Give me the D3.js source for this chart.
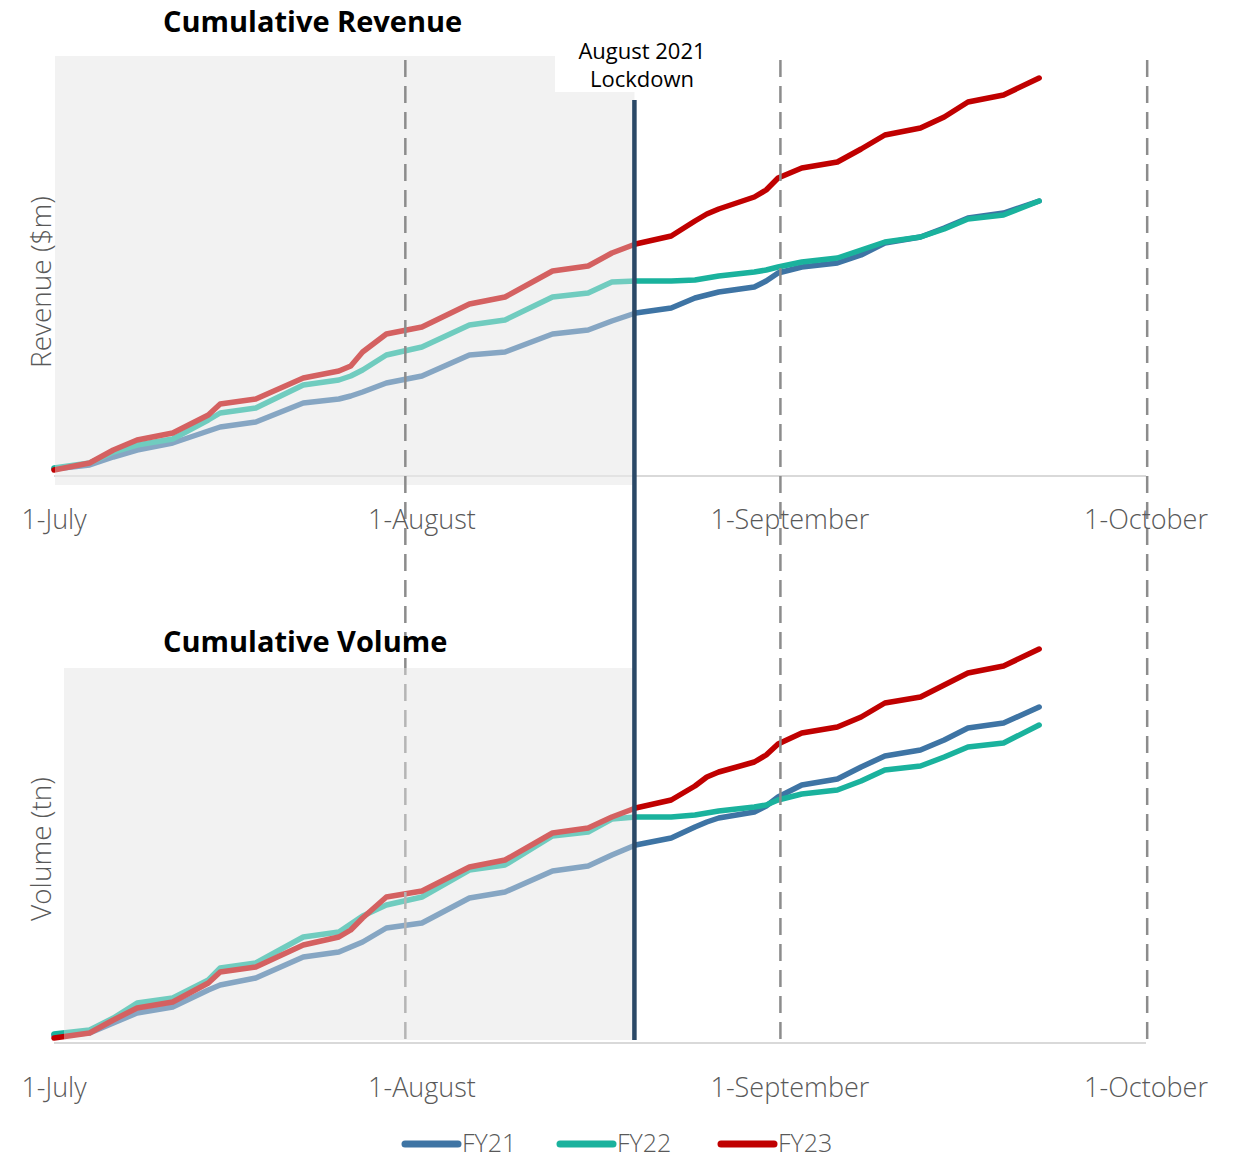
<!DOCTYPE html>
<html><head><meta charset="utf-8">
<script src="https://cdn.jsdelivr.net/npm/d3@7"></script>
<style>
body{margin:0;background:#fff;}
text{font-family:"Open Sans","Noto Sans",sans-serif;}
</style></head>
<body><svg id="c" width="1243" height="1158"></svg>
<script>
// ---- data (days since 1 July; cumulative values, arbitrary units) ----
const days = [0,3,5,7,10,13,14,17,21,24,25,26,28,31,35,38,42,45,47,49,52,54,55,56,59,60,61,63,66,68,70,73,75,77,80,83];
const seriesNames = ["FY21","FY22","FY23"];
const revFY21 = [1.75,2.75,4.75,6.5,8.25,11.25,12.25,13.5,18.25,19.25,20,21,23.25,25,30.25,31,35.5,36.5,38.75,40.75,42,44.5,45.25,46,47.25,48.75,50.75,52.25,53.25,55.25,58.25,59.75,62,64.5,65.75,68.75];
const revFY22 = [2,3.25,6,7.75,9.25,14,15.75,17,22.75,24,25,26.5,30.25,32.25,37.75,39,44.75,45.75,48.5,48.75,48.75,49,49.5,50,51,51.5,52.25,53.5,54.5,56.5,58.5,59.75,61.75,64.25,65.25,68.75];
const revFY23 = [1.5,3.25,6.5,9,10.75,15.25,18,19.25,24.5,26.25,27.5,31,35.5,37.25,43,44.75,51.25,52.5,55.75,58,60,63.75,65.5,66.75,69.75,71.5,74.5,77,78.5,81.75,85.25,87,89.75,93.5,95.25,99.5];
const volFY21 = [2,2.5,5,7.5,9,13.25,14.5,16.25,21.5,22.75,24,25.25,28.75,30,36.25,37.75,43,44.25,47,49.5,51.25,54,55.25,56.25,57.75,59.25,61.5,64.5,66,69,71.75,73.25,75.75,78.75,80,84];
const volFY22 = [2.25,3.25,6.25,10,11.25,15.75,18.75,20,26.5,27.75,29.75,31.75,34.5,36.5,43.25,44.5,51.75,52.75,56,56.5,56.5,57,57.5,58,59,59.5,60.75,62.25,63.25,65.5,68.25,69.25,71.5,74,75,79.5];
const volFY23 = [1.25,2.5,5.75,8.75,10.25,15,17.75,19,24.5,26.5,28.25,31.25,36.5,38,44,45.75,52.5,53.75,56.5,58.75,60.75,64.25,66.5,67.75,70.25,72,74.75,77.5,79,81.5,85,86.5,89.5,92.5,94.25,98.5];
const tickDays = [0,31,62,92];
const tickLabels = ["1-July","1-August","1-September","1-October"];
const guideDays = [29.6,61.2,92.1];
const lockdownDay = 48.9;
const lockdownLabel = ["August 2021","Lockdown"];
const colors = ["#3e74a4","#1ab29d","#c00000"];

const svg = d3.select("#c");
const x = d3.scaleLinear().domain([0,92]).range([54,1146]);

const panels = [
  {title:"Cumulative Revenue", ylab:"Revenue ($m)", data:[revFY21,revFY22,revFY23],
   y:d3.scaleLinear().domain([0,100]).range([476,76]), shade:{x0:55,y0:56,y1:485}, titleY:32, tickY:529, overlayTop:false},
  {title:"Cumulative Volume", ylab:"Volume (tn)", data:[volFY21,volFY22,volFY23],
   y:d3.scaleLinear().domain([0,100]).range([1043,643]), shade:{x0:64,y0:668,y1:1040}, titleY:652, tickY:1097, overlayTop:true}
];

const gBack = svg.append("g"), gLines = svg.append("g"), gOver1 = svg.append("g"),
      gGuides = svg.append("g"), gOver2 = svg.append("g"), gTop = svg.append("g");

panels.forEach((p,pi)=>{
  const xl = x(lockdownDay);
  gBack.append("rect").attr("x",p.shade.x0).attr("y",p.shade.y0)
    .attr("width",xl-p.shade.x0).attr("height",p.shade.y1-p.shade.y0).attr("fill","#f2f2f2");
  gBack.append("line").attr("x1",x(0)).attr("x2",x(92)).attr("y1",p.y(0)).attr("y2",p.y(0))
    .attr("stroke","#d9d9d9").attr("stroke-width",2);
  const line = d3.line().x((d,i)=>x(days[i])).y(d=>p.y(d));
  p.data.forEach((s,si)=>{
    gLines.append("path").attr("d",line(s)).attr("fill","none").attr("stroke",colors[si])
      .attr("stroke-width",5.5).attr("stroke-linejoin","round").attr("stroke-linecap","round");
  });
  const og = p.overlayTop ? gOver2 : gOver1;
  og.append("rect").attr("x",p.shade.x0).attr("y",p.shade.y0)
    .attr("width",xl-p.shade.x0).attr("height",p.shade.y1-p.shade.y0)
    .attr("fill","#f2f2f2").attr("opacity",0.4);
  // title
  gTop.append("text").attr("x",163).attr("y",p.titleY).text(p.title)
    .attr("font-size",29).attr("font-weight",700).attr("fill","#000");
  // y label
  const yc = (p.y(0)+p.y(100))/2+6;
  gTop.append("text").attr("transform",`translate(40,${yc}) rotate(-90)`)
    .attr("text-anchor","middle").attr("dominant-baseline","central")
    .attr("font-size",28).attr("font-weight",300).attr("fill","#595959").text(p.ylab);
  // ticks
  tickDays.forEach((d,i)=>{
    gTop.append("text").attr("x",x(d)).attr("y",p.tickY).attr("text-anchor","middle")
      .attr("font-size",27).attr("font-weight",300).attr("fill","#595959").text(tickLabels[i]);
  });
});

// guide dashed lines spanning both charts
guideDays.forEach(d=>{
  gGuides.append("line").attr("x1",x(d)).attr("x2",x(d)).attr("y1",60).attr("y2",1042)
    .attr("stroke","#8c8c8c").attr("stroke-width",2.5).attr("stroke-dasharray","17,9");
});

// lockdown annotation
const xl = x(lockdownDay);
gTop.append("rect").attr("x",555).attr("y",34).attr("width",160).attr("height",58).attr("fill","#fff");
gTop.append("line").attr("x1",xl).attr("x2",xl).attr("y1",100).attr("y2",1040)
  .attr("stroke","#2a4866").attr("stroke-width",4.5);
lockdownLabel.forEach((t,i)=>{
  gTop.append("text").attr("x",642).attr("y",59+i*28).attr("text-anchor","middle")
    .attr("font-size",22).attr("fill","#000").text(t);
});

// legend
const legX = [402,557,718];
seriesNames.forEach((n,i)=>{
  const g = gTop.append("g");
  g.append("line").attr("x1",legX[i]+3).attr("x2",legX[i]+56).attr("y1",1144).attr("y2",1144)
    .attr("stroke",colors[i]).attr("stroke-width",7).attr("stroke-linecap","round");
  g.append("text").attr("x",legX[i]+60).attr("y",1152).attr("font-size",25).attr("font-weight",300)
    .attr("fill","#595959").text(n);
});
</script></body></html>
